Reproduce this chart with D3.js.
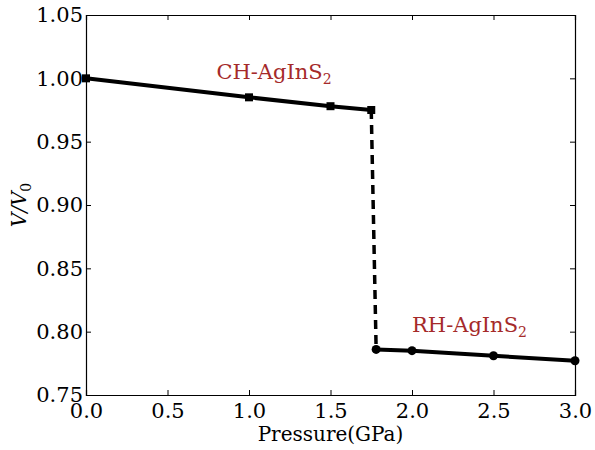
<!DOCTYPE html>
<html>
<head>
<meta charset="UTF-8">
<script src="https://d3js.org/d3.v7.min.js"></script>
<style>
  body { margin: 0; background: #fff; }
  text { font-family: 'DejaVu Serif', serif; }
</style>
</head>
<body>
<svg></svg>
<script>
  // CH phase (squares)
  const chPressure = [0.0, 1.0, 1.5, 1.75]
  const chVolume = [1.000, 0.985, 0.978, 0.975]
  // RH phase (circles)
  const rhPressure = [1.78, 2.0, 2.5, 3.0]
  const rhVolume = [0.786, 0.785, 0.781, 0.777]

  const xTicks = [0.0, 0.5, 1.0, 1.5, 2.0, 2.5, 3.0]
  const yTicks = [0.75, 0.80, 0.85, 0.90, 0.95, 1.00, 1.05]

  const width = 595, height = 450
  const margin = { left: 86, right: 20, top: 15, bottom: 55 }

  const svg = d3.select('svg').attr('width', width).attr('height', height)

  const x = d3.scaleLinear().domain([0, 3]).range([margin.left, width - margin.right])
  const y = d3.scaleLinear().domain([0.75, 1.05]).range([height - margin.bottom, margin.top])

  const ch = chPressure.map((p, i) => [p, chVolume[i]])
  const rh = rhPressure.map((p, i) => [p, rhVolume[i]])

  const line = d3.line().x(d => x(d[0])).y(d => y(d[1]))

  const plot = svg.append('g')

  // transition dashed line
  plot.append('path')
    .datum([ch[ch.length - 1], rh[0]])
    .attr('d', line)
    .attr('fill', 'none')
    .attr('stroke', 'black')
    .attr('stroke-width', 3.5)
    .attr('stroke-dasharray', '9,6')

  plot.append('path').datum(ch).attr('d', line)
    .attr('fill', 'none').attr('stroke', 'black').attr('stroke-width', 4)
  plot.append('path').datum(rh).attr('d', line)
    .attr('fill', 'none').attr('stroke', 'black').attr('stroke-width', 4)

  plot.selectAll('rect.m').data(ch).join('rect')
    .attr('class', 'm')
    .attr('x', d => x(d[0]) - 4).attr('y', d => y(d[1]) - 4)
    .attr('width', 8).attr('height', 8).attr('fill', 'black')

  plot.selectAll('circle.m').data(rh).join('circle')
    .attr('class', 'm')
    .attr('cx', d => x(d[0])).attr('cy', d => y(d[1]))
    .attr('r', 4.5).attr('fill', 'black')

  // axes with inward ticks on all sides
  const tickSize = 5
  const axBottom = svg.append('g').attr('transform', `translate(0,${y(0.75)})`)
    .call(d3.axisBottom(x).tickValues(xTicks).tickFormat(d3.format('.1f')).tickSize(-tickSize).tickPadding(8))
  const axTop = svg.append('g').attr('transform', `translate(0,${y(1.05)})`)
    .call(d3.axisTop(x).tickValues(xTicks).tickSize(-tickSize).tickFormat(''))
  const axLeft = svg.append('g').attr('transform', `translate(${x(0)},0)`)
    .call(d3.axisLeft(y).tickValues(yTicks).tickFormat(d3.format('.2f')).tickSize(-tickSize).tickPadding(3))
  const axRight = svg.append('g').attr('transform', `translate(${x(3)},0)`)
    .call(d3.axisRight(y).tickValues(yTicks).tickSize(-tickSize).tickFormat(''))

  ;[axBottom, axTop, axLeft, axRight].forEach(a => {
    a.select('.domain').attr('stroke', 'black').attr('stroke-width', 1.2)
    a.selectAll('.tick line').attr('stroke', 'black')
    a.selectAll('.tick text').attr('font-family', 'DejaVu Serif').attr('font-size', 21).attr('fill', 'black')
  })

  // labels
  const lab = (t, px, py) => {
    const el = svg.append('text').attr('x', x(px)).attr('y', y(py))
      .attr('fill', '#a52a2a').attr('font-size', 21)
    el.append('tspan').text(t)
    el.append('tspan').text('2').attr('font-size', 14).attr('dy', 5)
  }
  lab('CH-AgInS', 0.8, 0.9995)
  lab('RH-AgInS', 2.0, 0.8)

  svg.append('text')
    .attr('x', x(1.5)).attr('y', 441)
    .attr('text-anchor', 'middle').attr('font-size', 20)
    .text('Pressure(GPa)')

  const yl = svg.append('text')
    .attr('transform', `translate(26,${y(0.9)}) rotate(-90)`)
    .attr('text-anchor', 'middle').attr('font-size', 20).attr('font-style', 'italic')
  yl.append('tspan').text('V/V')
  yl.append('tspan').text('0').attr('font-size', 14).attr('dy', 5).attr('font-style', 'normal')
</script>
</body>
</html>
